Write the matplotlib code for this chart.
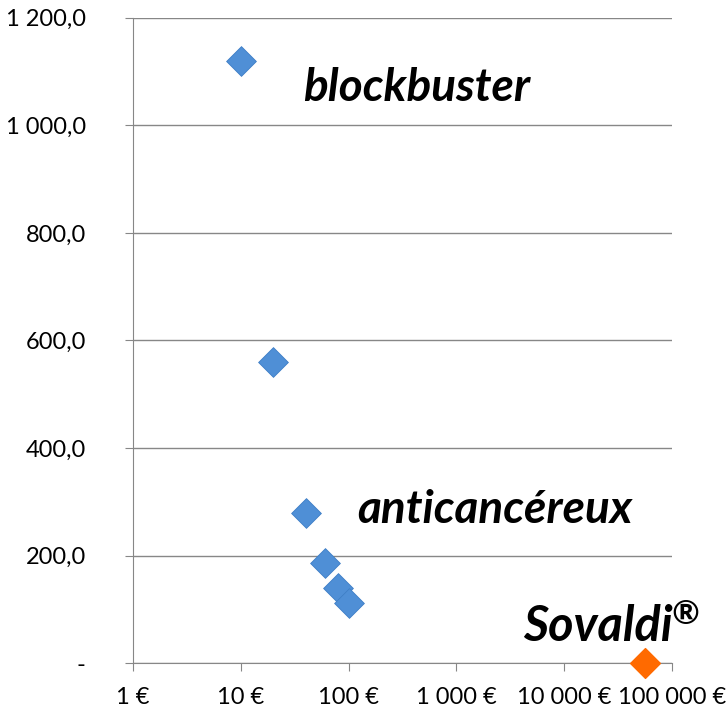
import matplotlib.pyplot as plt
from matplotlib.ticker import FixedLocator

plt.rcParams['font.family'] = ['Lato', 'DejaVu Sans']

# prix du traitement (EUR) et taille de la population traitee
prix = [10, 20, 40, 60, 80, 100]
patients = [1120, 560, 280, 187, 140, 112]
prix_sovaldi = [56000]
patients_sovaldi = [0]

yticks = [0, 200, 400, 600, 800, 1000, 1200]
ylabels = ['-', '200,0', '400,0', '600,0', '800,0', '1 000,0', '1 200,0']
xticks = [1, 10, 100, 1000, 10000, 100000]
xlabels = ['1 €', '10 €', '100 €', '1 000 €', '10 000 €', '100 000 €']

fig = plt.figure(figsize=(7.27, 7.10), dpi=100)
ax = fig.add_axes([0.183, 0.066, 0.741, 0.909])

ax.scatter(prix, patients, marker='D', s=230, color='#4f8fd6', edgecolors='#3f7fc6',
           linewidths=0.6, zorder=3)
ax.scatter(prix_sovaldi, patients_sovaldi, marker='D', s=230, color='#ff6a00',
           edgecolors='#ff6a00', zorder=3, clip_on=False)

ax.set_xscale('log')
ax.set_xlim(1, 100000)
ax.set_ylim(0, 1200)
ax.xaxis.set_major_locator(FixedLocator(xticks))
ax.xaxis.set_minor_locator(FixedLocator([]))
ax.set_xticks(xticks, xlabels)
ax.set_yticks(yticks, ylabels)

ax.grid(axis='y', color='#878787', linewidth=1)
ax.set_axisbelow(True)
for s in ['top', 'right']:
    ax.spines[s].set_visible(False)
ax.spines['left'].set_color('#878787')
ax.spines['bottom'].set_color('#878787')
ax.tick_params(axis='x', length=6, color='#878787', labelsize=17, pad=11)
ax.tick_params(axis='y', length=6, color='#878787', labelsize=17, pad=28)

ax.text(0.315, 0.891, 'blockbuster', transform=ax.transAxes, fontsize=33,
        fontweight='bold', fontstyle='italic', va='center', ha='left')
ax.text(0.416, 0.237, 'anticancéreux', transform=ax.transAxes, fontsize=33,
        fontweight='bold', fontstyle='italic', va='center', ha='left')
ax.text(0.724, 0.056, 'Sovaldi', transform=ax.transAxes, fontsize=35,
        fontweight='bold', fontstyle='italic', va='center', ha='left', clip_on=False)
ax.text(1.0, 0.075, '®', transform=ax.transAxes, fontsize=24,
        fontweight='bold', fontstyle='italic', va='center', ha='left', clip_on=False)

plt.savefig('out.png', dpi=100)
